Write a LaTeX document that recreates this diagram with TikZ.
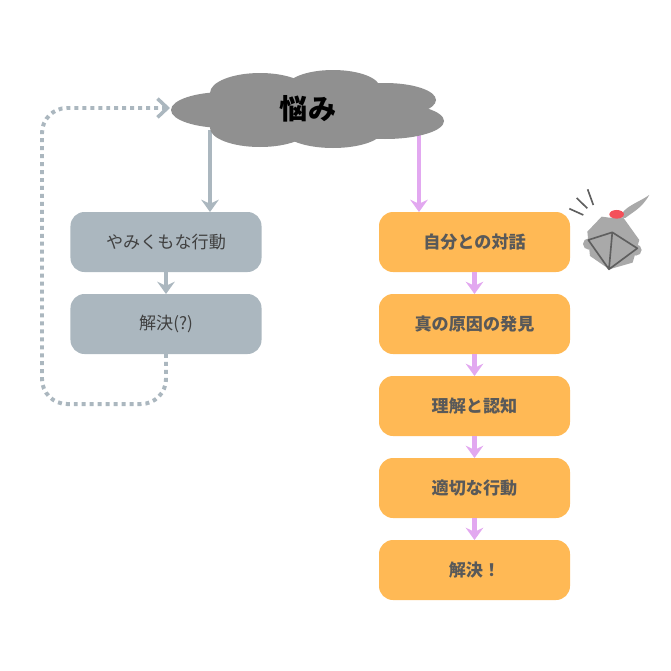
\documentclass[tikz,border=0pt]{standalone}
\usepackage{fontspec}
\usepackage{xcolor}
\setmainfont{Noto Sans CJK JP}
\usetikzlibrary{
	arrows.meta,
	positioning
}
\definecolor{cloudgray}{HTML}{909090}
\definecolor{slatebox}{HTML}{ABB7BF}
\definecolor{orangebox}{HTML}{FFB955}
\definecolor{lilac}{HTML}{E2A8F0}
\definecolor{knightgray}{HTML}{A9A9A9}
\definecolor{knightline}{HTML}{5F5F5F}
\definecolor{plumered}{HTML}{F4505A}
\tikzset{
	flowbox/.style={minimum width=5.73cm,minimum height=1.8cm,rounded corners=0.42cm,
		inner sep=0pt,outer sep=0pt,font=\fontsize{14.6pt}{17pt}\selectfont},
	badbox/.style={flowbox,fill=slatebox,text=black!75},
	goodbox/.style={flowbox,fill=orangebox,text=black!65,font=\fontsize{14.6pt}{17pt}\selectfont\bfseries},
	flowarrow/.style={line width=3.6pt,-{Stealth[length=10.5pt,width=15pt,inset=3.5pt]}},
	badarrow/.style={flowarrow,draw=slatebox},
	goodarrow/.style={flowarrow,draw=lilac},
	looparrow/.style={line width=3.4pt,draw=slatebox,dash pattern=on 3.4pt off 3.4pt,rounded corners=0.75cm,
		-{Straight Barb[length=8.5pt,width=16pt,line width=3pt]}}
}
\begin{document}
\begin{tikzpicture}[x=0.03cm,y=-0.03cm,node distance=0.66cm]
	\useasboundingbox (0,0) rectangle (671,671);

	% arrows out of the cloud start behind it
	\coordinate (leftstart) at (210,130);
	\coordinate (rightstart) at (419,130);
	\coordinate (loopend) at (170,108);

	\node[badbox] (rash) at (166,242) {やみくもな行動};
	\node[badbox,below=of rash] (fake) {解決(?)};

	\node[goodbox] (talk) at (474.5,242) {自分との対話};
	\node[goodbox,below=of talk] (cause) {真の原因の発見};
	\node[goodbox,below=of cause] (accept) {理解と認知};
	\node[goodbox,below=of accept] (act) {適切な行動};
	\node[goodbox,below=of act] (solved) {解決！};

	\draw[badarrow] (leftstart) -- (leftstart |- rash.north);
	\draw[goodarrow] (rightstart) -- (rightstart |- talk.north);
	\draw[badarrow] (rash) -- (fake);
	\draw[goodarrow] (talk) -- (cause);
	\draw[goodarrow] (cause) -- (accept);
	\draw[goodarrow] (accept) -- (act);
	\draw[goodarrow] (act) -- (solved);
	\draw[looparrow] (fake.south) -- ++(0,50) -| (42,108) -- (loopend);

	% cloud
	\foreach \cx/\cy/\rx/\ry in {225/110/54/18,260/93/50/20,333/88/47/18,385/100/51/17,
		385/121/59/18,260/128/50/19,333/130/50/18}
		\fill[cloudgray] (\cx,\cy) ellipse [x radius=\rx,y radius=\ry];
	\fill[cloudgray] (240,95) rectangle (400,125);
	\node[font=\fontsize{24pt}{27pt}\selectfont\bfseries,text=black,inner sep=0pt] (worry) at (308,109) {悩み};

	% knight
	\begin{scope}[shift={(560,180)},x=0.01cm,y=-0.01cm]
		\fill[knightgray] (86,192) circle (17);
		\fill[knightgray] (228,210) circle (17);
		\fill[knightgray] (180,112) .. controls (190,80) and (235,68) .. (268,45)
			.. controls (245,85) and (220,95) .. (196,114) -- cycle;
		\fill[knightgray] (125,110) -- (148,113) -- (190,113) -- (238,180) -- (218,248) -- (148,268)
			-- (90,228) -- (82,155) -- cycle;
		\fill[plumered] (170,103) ellipse [x radius=22,y radius=13];
		\draw[knightline,line width=1.4pt,line join=round] (85,180) -- (157,157) -- (232,205) -- (147,268)
			-- cycle (157,157) -- (147,268);
		\draw[knightline,line width=1.4pt] (28,86) -- (70,105) (50,54) -- (82,85) (83,28) -- (100,75);
	\end{scope}
\end{tikzpicture}
\end{document}
